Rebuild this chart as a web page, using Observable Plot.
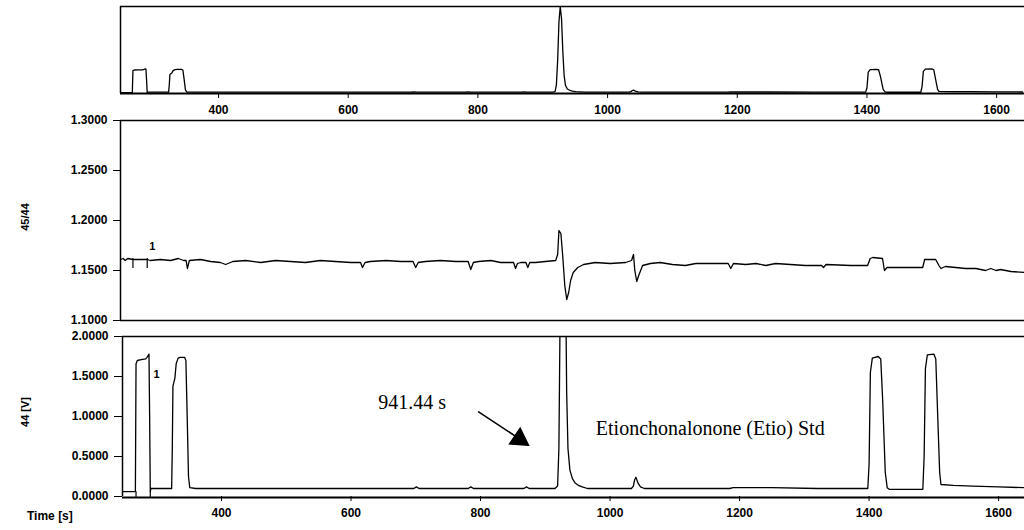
<!DOCTYPE html>
<html>
<head>
<meta charset="utf-8">
<script src="https://cdn.jsdelivr.net/npm/d3@7"></script>
<script src="https://cdn.jsdelivr.net/npm/@observablehq/plot@0.6"></script>
<style>
  html, body { margin: 0; padding: 0; background: #fff; }
  #wrap { position: relative; width: 1024px; height: 530px; overflow: hidden; background: #fff;
          font-family: "Liberation Sans", Arial, sans-serif; color: #000; }
  .panel { position: absolute; left: 0; }
  .panel svg { overflow: visible; }
  .panel svg g[aria-label$="tick label"] { font-weight: bold; }
  .ylab { position: absolute; font-size: 11px; font-weight: bold; white-space: nowrap; transform: translate(-50%, -50%) rotate(-90deg); }
  .xlab { position: absolute; font-size: 12px; font-weight: bold; white-space: nowrap; }
</style>
</head>
<body>
<div id="wrap">
  <div class="panel" id="p1" style="top:0px"></div>
  <div class="panel" id="p2" style="top:112px"></div>
  <div class="panel" id="p3" style="top:328px"></div>
  <div class="ylab" style="left:25px; top:217px">45/44</div>
  <div class="ylab" style="left:25px; top:412px">44 [V]</div>
  <div class="xlab" style="left:27px; top:509px">Time [s]</div>
</div>
<script>
// ---- tick values ----
const timeTicks = [400, 600, 800, 1000, 1200, 1400, 1600];
const ratioTicks = [1.10, 1.15, 1.20, 1.25, 1.30];
const voltTicks = [0, 0.5, 1.0, 1.5, 2.0];

// ---- mass 44 signal (V) ----
const time44 = [247, 266, 267, 268, 270, 276, 283, 285, 288, 289, 290, 291, 305, 323, 324, 325, 328, 330, 333, 336,
  343, 345, 347, 349, 351, 360, 400, 450, 500, 550, 600, 650, 697, 701, 705, 781, 785, 789, 867, 871, 875,
  915, 919, 921, 923, 925, 927, 929, 931, 933, 935, 938, 942, 946, 951, 957, 965, 1000, 1033, 1036, 1038,
  1040, 1043, 1047, 1053, 1120, 1185, 1190, 1250, 1320, 1398, 1400, 1402, 1405, 1414, 1418, 1421, 1425,
  1428, 1431, 1483, 1485, 1487, 1490, 1500, 1503, 1506, 1509, 1511, 1530, 1560, 1600, 1640];
const volt44 = [0.06, 0.06, 0.06, 1.66, 1.70, 1.71, 1.72, 1.74, 1.78, 1.0, 0.06, 0.10, 0.10, 0.10, 0.6, 1.38, 1.48, 1.66, 1.73, 1.74,
  1.74, 1.70, 1.0, 0.25, 0.11, 0.10, 0.10, 0.10, 0.10, 0.10, 0.10, 0.10, 0.10, 0.12, 0.10, 0.10, 0.12, 0.10, 0.10, 0.12, 0.10,
  0.10, 0.13, 0.6, 2.4, 5.2, 6.3, 5.4, 3.0, 1.3, 0.6, 0.33, 0.22, 0.17, 0.14, 0.12, 0.10, 0.10, 0.10, 0.13, 0.21,
  0.24, 0.17, 0.12, 0.10, 0.10, 0.10, 0.11, 0.11, 0.10, 0.10, 0.4, 1.55, 1.73, 1.75, 1.72, 1.2, 0.3,
  0.11, 0.09, 0.09, 0.5, 1.6, 1.77, 1.78, 1.72, 1.0, 0.3, 0.15, 0.14, 0.13, 0.12, 0.11];

// ---- ratio 45/44 ----
const timeRatio = [249, 253, 256, 260, 268, 280, 290, 295, 310, 326, 338, 346, 350, 352, 355, 372, 388, 403, 411, 422,
  442, 465, 488, 511, 534, 557, 580, 604, 619, 622, 626, 634, 658, 681, 700, 704, 708, 719, 742, 766, 785, 789,
  793, 801, 820, 835, 855, 858, 861, 866, 874, 877, 880, 889, 904, 920, 923, 925, 928, 931, 934, 937, 940, 943,
  947, 954, 963, 981, 1004, 1028, 1037, 1040, 1042, 1045, 1048, 1054, 1066, 1081, 1100, 1120, 1136, 1159,
  1186, 1190, 1194, 1213, 1229, 1244, 1259, 1282, 1305, 1330, 1333, 1337, 1375, 1401, 1405, 1409, 1424, 1427,
  1431, 1486, 1489, 1506, 1511, 1514, 1521, 1537, 1552, 1568, 1583, 1591, 1599, 1606, 1622, 1643];
const ratio4544 = [1.161, 1.162, 1.160, 1.162, 1.161, 1.161, 1.161, 1.160, 1.161, 1.160, 1.162, 1.160, 1.160, 1.152, 1.160, 1.161, 1.159, 1.158, 1.156, 1.159,
  1.160, 1.158, 1.160, 1.159, 1.158, 1.160, 1.159, 1.158, 1.158, 1.153, 1.158, 1.159, 1.160, 1.159, 1.159, 1.153, 1.158, 1.159, 1.160, 1.159, 1.159, 1.151,
  1.158, 1.159, 1.160, 1.158, 1.158, 1.152, 1.157, 1.158, 1.158, 1.153, 1.158, 1.158, 1.159, 1.160, 1.166, 1.190, 1.187, 1.163, 1.135, 1.121, 1.128, 1.140,
  1.148, 1.153, 1.156, 1.158, 1.157, 1.158, 1.160, 1.166, 1.150, 1.139, 1.145, 1.155, 1.157, 1.158, 1.156, 1.155, 1.157, 1.157,
  1.157, 1.152, 1.157, 1.156, 1.157, 1.155, 1.157, 1.156, 1.155, 1.155, 1.153, 1.156, 1.155, 1.155, 1.162, 1.163, 1.162, 1.150,
  1.153, 1.153, 1.161, 1.161, 1.155, 1.152, 1.154, 1.153, 1.152, 1.152, 1.150, 1.152, 1.150, 1.151, 1.149, 1.148];

// ---- peak markers / labels ----
const markerTimes = [268, 290];
const peakNumbers = ["1"];
const annotationTexts = ["941.44 s", "Etionchonalonone (Etio) Std"];

const sig = time44.map((t, i) => ({t, v: volt44[i]}));
const rat = timeRatio.map((t, i) => ({t, r: ratio4544[i]}));

const baseStyle = {fontFamily: "'Liberation Sans', Arial, sans-serif", fontSize: "12px", color: "#000", background: "transparent", overflow: "visible"};
const fmtTime = d3.format("d");
const fmt4 = d3.format(".4f");

// Top overview panel
const xTop = [248.8, 1643];
const p1 = Plot.plot({
  width: 1024, height: 118, marginLeft: 120, marginRight: 0, marginTop: 6, marginBottom: 25,
  style: baseStyle,
  x: {domain: xTop, ticks: timeTicks, tickFormat: fmtTime, tickSize: 5, tickPadding: 7, label: null},
  y: {domain: [0, 6.3], axis: null},
  marks: [
    Plot.ruleY([6.3], {stroke: "#000", strokeWidth: 1.5}),
    Plot.ruleY([0], {stroke: "#000", strokeWidth: 2}),
    Plot.ruleX([xTop[0]], {stroke: "#000", strokeWidth: 1.5}),
    Plot.line(sig, {x: "t", y: "v", stroke: "#000", strokeWidth: 1.3, clip: true})
  ]
});
document.getElementById("p1").appendChild(p1);

// Middle ratio panel
const xMid = [248.8, 1643];
const p2 = Plot.plot({
  width: 1024, height: 216, marginLeft: 120, marginRight: 0, marginTop: 8, marginBottom: 8,
  style: baseStyle,
  x: {domain: xMid, axis: null},
  y: {domain: [1.1, 1.3], ticks: ratioTicks, tickFormat: fmt4, tickSize: 7, tickPadding: 6, label: null},
  marks: [
    Plot.ruleY([1.3], {stroke: "#000", strokeWidth: 1.5}),
    Plot.ruleY([1.1], {stroke: "#000", strokeWidth: 1.5}),
    Plot.ruleX([xMid[0]], {stroke: "#000", strokeWidth: 1.5}),
    Plot.ruleX(markerTimes, {y1: 1.152, y2: 1.162, stroke: "#000", strokeWidth: 1.2}),
    Plot.line(rat, {x: "t", y: "r", stroke: "#000", strokeWidth: 1.3, clip: true}),
    Plot.text(peakNumbers, {x: 293, y: 1.174, text: d => d, fontSize: 11, fontWeight: "bold", textAnchor: "start"})
  ]
});
document.getElementById("p2").appendChild(p2);

// Bottom mass-44 panel
const xBot = [247.1, 1640];
const p3 = Plot.plot({
  width: 1024, height: 202, marginLeft: 122, marginRight: 0, marginTop: 8, marginBottom: 34,
  style: baseStyle,
  x: {domain: xBot, ticks: timeTicks, tickFormat: fmtTime, tickSize: 5, tickPadding: 7, label: null},
  y: {domain: [0, 2], ticks: voltTicks, tickFormat: fmt4, tickSize: 8, tickPadding: 6, label: null},
  marks: [
    Plot.ruleY([2], {stroke: "#000", strokeWidth: 1.5}),
    Plot.ruleY([0], {stroke: "#000", strokeWidth: 2, dy: 1}),
    Plot.ruleX([xBot[0]], {stroke: "#000", strokeWidth: 1.5}),
    Plot.ruleX(markerTimes, {y1: -0.015, y2: 0.06, stroke: "#000", strokeWidth: 1.2}),
    Plot.line(sig, {x: "t", y: "v", stroke: "#000", strokeWidth: 1.3, clip: true}),
    Plot.text(peakNumbers, {x: 295, y: 1.52, text: d => d, fontSize: 11, fontWeight: "bold", textAnchor: "start"}),
    Plot.text([annotationTexts[0]], {x: 642, y: 1.18, text: d => d, textAnchor: "start",
      fontFamily: "'Liberation Serif', 'Times New Roman', serif", fontSize: 20}),
    Plot.text([annotationTexts[1]], {x: 978, y: 0.855, text: d => d, textAnchor: "start",
      fontFamily: "'Liberation Serif', 'Times New Roman', serif", fontSize: 20}),
    Plot.arrow([{x1: 797, y1: 1.057, x2: 862, y2: 0.71}], {x1: "x1", y1: "y1", x2: "x2", y2: "y2",
      stroke: "#000", strokeWidth: 1.6, headLength: 0}),
    Plot.dot([{x: 860, y: 0.717}], {x: "x", y: "y", symbol: "triangle", r: 7, fill: "#000", stroke: "#000", rotate: 124})
  ]
});
document.getElementById("p3").appendChild(p3);
</script>
</body>
</html>
